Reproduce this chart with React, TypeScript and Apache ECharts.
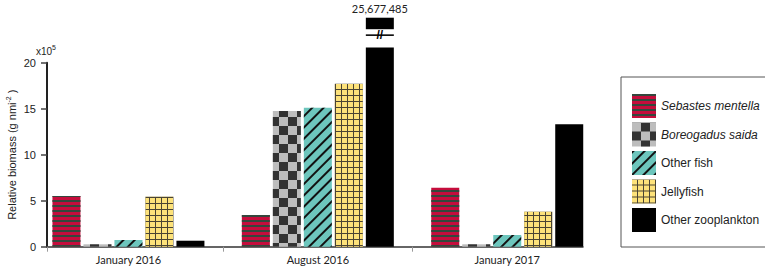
import React, { useEffect, useRef } from "react";
import * as echarts from "echarts";

// ---- data (g nmi^-2) ----
const categories = ["January 2016", "August 2016", "January 2017"];
const seriesNames = ["Sebastes mentella", "Boreogadus saida", "Other fish", "Jellyfish", "Other zooplankton"];
const sebastes = [551000, 345000, 641000];
const boreogadus = [26000, 1475000, 26000];
const otherFish = [73000, 1510000, 127000];
const jellyfish = [543000, 1770000, 380000];
const zooplankton = [65000, 25677485, 1330000];
const yTicks = [0, 5, 10, 15, 20]; // x10^5

// axis-break rendering (in value units, g nmi^-2)
const BREAK_LOW = 2165000;
const BREAK_GAP1 = 126000;
const BREAK_LINE = 17000;
const BREAK_GAP2 = 56000;
const BREAK_TOP = 125000;

// category positions on the (value) x axis
const X_OFFSET = 0.43;
const X_MAX = 2.83;

const LABEL_FONT = "Lato";
const AX_FONT = "Liberation Sans";

export default function App() {
  const ref = useRef<HTMLDivElement>(null);
  useEffect(() => {
    document.body.style.margin = "0";
    if (!ref.current) return;
    const chart = echarts.init(ref.current, null, { renderer: "svg" });
    const pos = (i: number) => i + X_OFFSET;
    // data as [value, position] so that stacking works on the value (y) dimension
    const pts = (arr: number[]) => arr.map((v, i) => [v, pos(i)]);
    const common = { type: "bar", barWidth: 28, barGap: "10.7%", clip: false, encode: { x: 1, y: 0 } };
    const broken = (fn: (v: number) => number) => zooplankton.map((v, i) => [v > BREAK_LOW ? fn(v) : 0, pos(i)]);

    const option: any = {
      animation: false,
      grid: { left: 47, right: 182, top: 62.7, bottom: 23.3, containLabel: false, outerBoundsMode: "none" },
      xAxis: {
        type: "value",
        min: 0,
        max: X_MAX,
        splitLine: { show: false },
        axisLine: { show: true, lineStyle: { color: "#333", width: 1.5 } },
        axisTick: { show: true, length: 5, customValues: [0, pos(0.5), pos(1.5)], lineStyle: { color: "#999" } },
        axisLabel: {
          customValues: categories.map((_, i) => pos(i)),
          formatter: (v: number) => categories[Math.round(v - X_OFFSET)] ?? "",
          fontFamily: LABEL_FONT,
          fontSize: 11,
          color: "#222",
          margin: 7,
        },
      },
      yAxis: {
        type: "value",
        position: "left",
        min: 0,
        max: 2000000,
        interval: 500000,
        splitLine: { show: false },
        axisLine: { show: true, onZero: false, lineStyle: { color: "#222", width: 2 } },
        axisTick: { show: true, inside: false, length: 6, lineStyle: { color: "#444", width: 1.5 } },
        axisLabel: {
          formatter: (v: number) => String(yTicks[Math.round(v / 500000)] ?? v / 100000),
          fontFamily: AX_FONT,
          fontSize: 11,
          color: "#222",
          margin: 11,
        },
        name: "{a|Relative biomass (g nmi}{b|-2}{a| )}",
        nameLocation: "middle",
        nameRotate: 90,
        nameGap: 28,
        nameMoveOverlap: false,
        nameTextStyle: {
          fontFamily: AX_FONT,
          color: "#222",
          rich: {
            a: { fontFamily: AX_FONT, fontSize: 11, color: "#222" },
            b: { fontFamily: AX_FONT, fontSize: 7, color: "#222", padding: [0, 0, 7, 0] },
          },
        },
      },
      legend: {
        orient: "vertical",
        left: 621,
        top: 77,
        padding: [17, 6, 15, 11],
        itemWidth: 24,
        itemHeight: 24,
        itemGap: 4.5,
        borderColor: "#555",
        borderWidth: 1,
        icon: "rect",
        textStyle: { fontFamily: AX_FONT, fontSize: 12, color: "#222" },
        data: seriesNames.map((n, i) => ({
          name: n,
          textStyle: { fontStyle: i < 2 ? "italic" : "normal" },
        })),
      },
      graphic: [
        {
          type: "text",
          left: 36,
          top: 44,
          style: {
            text: "{a|x10}{b|5}",
            rich: {
              a: { fontFamily: AX_FONT, fontSize: 10, fill: "#222" },
              b: { fontFamily: AX_FONT, fontSize: 7, fill: "#222", padding: [0, 0, 7, 0] },
            },
          },
        },
      ],
      series: [
        {
          ...common,
          name: seriesNames[0],
          data: pts(sebastes),
          itemStyle: {
            color: "#c50d3c",
            decal: { symbol: "rect", symbolSize: 1, dashArrayX: [1, 0], dashArrayY: [1.6, 2.7], rotation: 0, color: "#34473d" },
          },
        },
        {
          ...common,
          name: seriesNames[1],
          data: pts(boreogadus),
          itemStyle: {
            color: "#bdbdbd",
            decal: { symbol: "rect", symbolSize: 1, dashArrayX: [[8.4, 8.4], [0, 8.4, 8.4, 0]], dashArrayY: [8.4, 0], rotation: 0, color: "#333" },
          },
        },
        {
          ...common,
          name: seriesNames[2],
          data: pts(otherFish),
          itemStyle: {
            color: "#6dc6bd",
            decal: { symbol: "rect", symbolSize: 1, dashArrayX: [1, 0], dashArrayY: [1.3, 5.7], rotation: -Math.PI / 4, color: "#111" },
          },
        },
        {
          ...common,
          name: seriesNames[3],
          data: pts(jellyfish),
          itemStyle: {
            color: "#4a4433",
            decal: { symbol: "rect", symbolSize: 1, dashArrayX: [4.2, 1], dashArrayY: [4.2, 1], rotation: 0, color: "#fde27a" },
          },
        },
        {
          ...common,
          name: seriesNames[4],
          stack: "zoo",
          data: zooplankton.map((v, i) => [Math.min(v, BREAK_LOW), pos(i)]),
          itemStyle: { color: "#000" },
        },
        {
          ...common,
          name: "zoo-gap1",
          stack: "zoo",
          data: broken(() => BREAK_GAP1),
          itemStyle: { color: "rgba(0,0,0,0)" },
        },
        {
          ...common,
          name: "zoo-break",
          stack: "zoo",
          data: broken(() => BREAK_LINE),
          itemStyle: { color: "#000" },
          label: {
            show: true,
            position: "inside",
            formatter: (p: any) => (zooplankton[p.dataIndex] > BREAK_LOW ? "//" : ""),
            fontFamily: AX_FONT,
            fontWeight: "bold",
            fontSize: 12,
            color: "#000",
          },
        },
        {
          ...common,
          name: "zoo-gap2",
          stack: "zoo",
          data: broken(() => BREAK_GAP2),
          itemStyle: { color: "rgba(0,0,0,0)" },
        },
        {
          ...common,
          name: "zoo-top",
          stack: "zoo",
          data: broken(() => BREAK_TOP),
          itemStyle: { color: "#000" },
          label: {
            show: true,
            position: "top",
            distance: 4,
            formatter: (p: any) =>
              zooplankton[p.dataIndex] > BREAK_LOW ? zooplankton[p.dataIndex].toLocaleString("en-US") : "",
            fontFamily: LABEL_FONT,
            fontSize: 11,
            color: "#222",
          },
        },
      ],
    };
    chart.setOption(option);
    return () => chart.dispose();
  }, []);
  return <div ref={ref} style={{ width: 765, height: 270 }} />;
}
